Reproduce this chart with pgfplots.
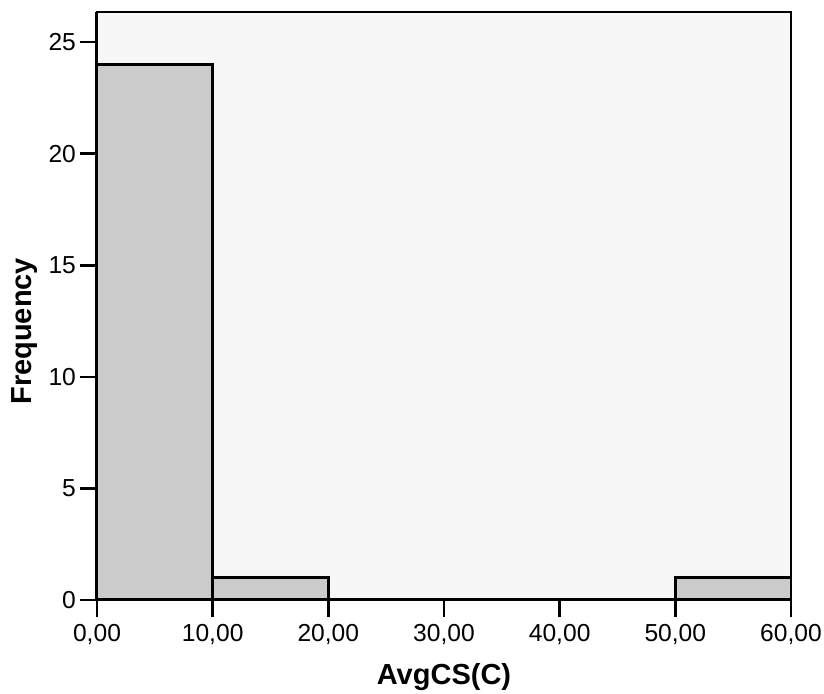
\documentclass[border=0pt]{standalone}
\usepackage{fontspec}
\setmainfont{Liberation Sans}
\usepackage{pgfplots}
\pgfplotsset{compat=1.18}
\definecolor{bg}{HTML}{F7F7F7}
\definecolor{barfill}{HTML}{CBCBCB}
\begin{document}
\begin{tikzpicture}
\path[use as bounding box] (-48.5pt,-47pt) rectangle (363.5pt,300pt);
\begin{axis}[
  at={(0,0)}, anchor=south west,
  scale only axis,
  width=347pt, height=294pt,
  xmin=0, xmax=60, ymin=0, ymax=26.35,
  axis background/.style={fill=bg},
  axis line style={line width=0.8pt},
  xtick={0,10,20,30,40,50,60},
  xticklabels={{0,00},{10,00},{20,00},{30,00},{40,00},{50,00},{60,00}},
  ytick={0,5,10,15,20,25},
  xtick pos=left, ytick pos=left,
  tick align=outside,
  major tick length=8.5pt,
  every tick/.style={black, line width=1.3pt},
  tick label style={font=\fontsize{12.3}{14}\selectfont},
  /pgf/number format/assume math mode=true,
  yticklabel style={xshift=1.5pt},
  xlabel={AvgCS(C)}, ylabel={Frequency},
  every axis x label/.style={at={(axis description cs:0.5,0)}, yshift=-38.5pt, anchor=center, font=\fontsize{14.5}{16}\selectfont\bfseries},
  every axis y label/.style={at={(axis description cs:0,0.457)}, xshift=-36pt, rotate=90, anchor=center, font=\fontsize{14.5}{16}\selectfont\bfseries},
  clip=false,
]
\addplot[ybar interval, fill=barfill, draw=black, line width=1.4pt]
  coordinates {(0,24) (10,1) (20,0) (30,0) (40,0) (50,1) (60,1)};
\draw[line width=1.5pt] (axis cs:0,0) -- (axis cs:60,0);
\draw[line width=1.5pt] (axis cs:0,0) -- (axis cs:0,26.35);
\end{axis}
\end{tikzpicture}
\end{document}
